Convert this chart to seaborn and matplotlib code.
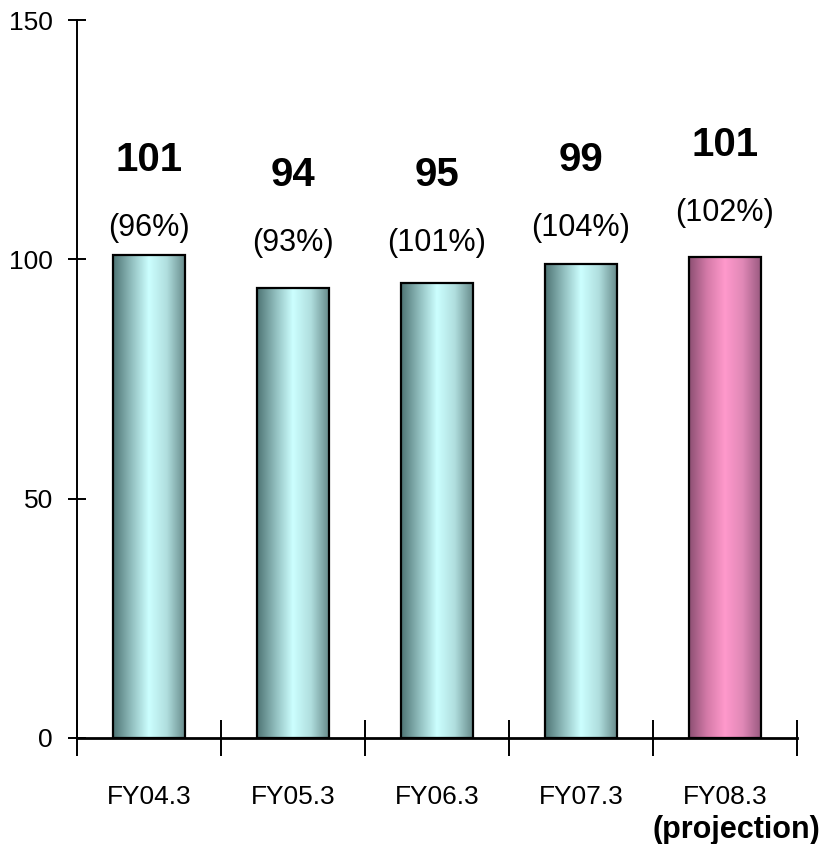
import numpy as np
import pandas as pd
import seaborn as sns
import matplotlib.pyplot as plt
from matplotlib.colors import LinearSegmentedColormap
from matplotlib.transforms import blended_transform_factory

# data
years = ["FY04.3", "FY05.3", "FY06.3", "FY07.3", "FY08.3"]
values = [101, 94, 95, 99, 100.5]
value_labels = ["101", "94", "95", "99", "101"]
pct_labels = ["(96%)", "(93%)", "(101%)", "(104%)", "(102%)"]

# label heights (data units) as placed in the original
value_label_y = [120.7, 117.6, 117.6, 120.7, 123.9]
pct_label_y = [106.5, 103.4, 103.4, 106.5, 109.6]

arial = ["Liberation Sans", "DejaVu Sans"]

sns.set_style("white")
plt.rcParams["font.family"] = arial
plt.rcParams["text.color"] = "black"
plt.rcParams["xtick.color"] = "black"
plt.rcParams["ytick.color"] = "black"

df = pd.DataFrame({"year": years, "value": values})

fig = plt.figure(figsize=(8.4, 8.44), dpi=100)
ax = fig.add_axes([0.0917, 0.1256, 0.857, 0.8507])

sns.barplot(data=df, x="year", y="value", ax=ax, width=0.5,
            color="white", edgecolor="black", linewidth=1.6)

teal = LinearSegmentedColormap.from_list(
    "teal", ["#4e7474", "#8fbcbc", "#ccffff", "#b0dede", "#688c8c"])
pink = LinearSegmentedColormap.from_list(
    "pink", ["#8c4f73", "#d47aa8", "#ff99cc", "#e088b6", "#9a5a80"])

grad = np.linspace(0, 1, 256).reshape(1, -1)
for i, patch in enumerate(ax.patches):
    x0, y0 = patch.get_x(), patch.get_y()
    w, h = patch.get_width(), patch.get_height()
    cmap = pink if i == len(ax.patches) - 1 else teal
    im = ax.imshow(grad, cmap=cmap, aspect="auto", interpolation="bilinear",
                   extent=[x0, x0 + w, y0, y0 + h], zorder=patch.get_zorder())
    im.set_clip_path(patch)
    patch.set_facecolor("none")
    patch.set_zorder(patch.get_zorder() + 1)

for i in range(len(years)):
    ax.text(i, value_label_y[i], value_labels[i], ha="center", va="center",
            fontsize=29, fontweight="bold", color="black")
    ax.text(i, pct_label_y[i], pct_labels[i], ha="center", va="center",
            fontsize=22, color="black")

ax.set_xlim(-0.5, 4.5)
ax.set_ylim(0, 150)
ax.set_yticks([0, 50, 100, 150])
ax.set_yticklabels(["0", "50", "100", "150"], fontsize=19)

ax.set_xticks(np.arange(-0.5, 5, 1))
ax.set_xticklabels([])
ax.set_xticks(np.arange(5), minor=True)
ax.set_xticklabels(years, minor=True, fontsize=19)
ax.tick_params(axis="x", which="minor", bottom=True, length=0, pad=34)
ax.tick_params(axis="x", which="major", bottom=True, direction="inout",
               length=26, width=1.4)
ax.tick_params(axis="y", left=True, direction="inout", length=13, width=1.4,
               pad=11)

trans = blended_transform_factory(ax.transData, fig.transFigure)
ax.text(4.08, 0.017, "(projection)", transform=trans, ha="center", va="center",
        fontsize=22, fontweight="bold", color="black")

ax.set_xlabel("")
ax.set_ylabel("")
sns.despine(ax=ax)
ax.spines["left"].set_linewidth(1.4)
ax.spines["bottom"].set_linewidth(2)
ax.spines["left"].set_color("black")
ax.spines["bottom"].set_color("black")

fig.savefig("out.png", dpi=100)
